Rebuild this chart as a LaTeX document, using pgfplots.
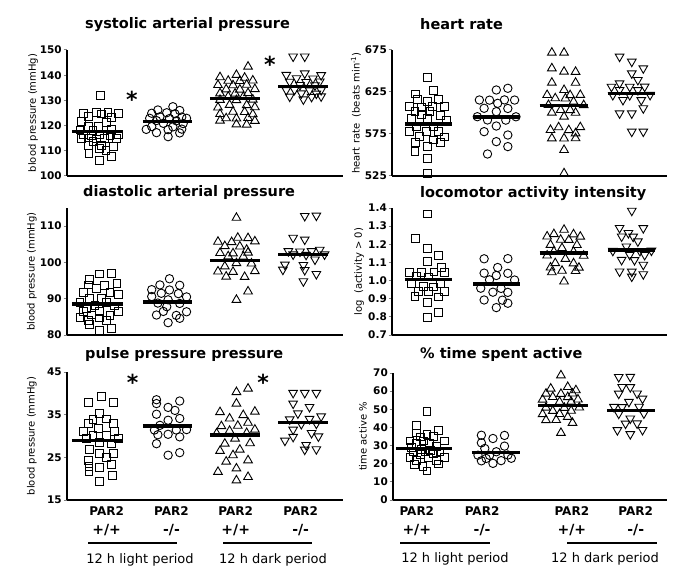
\documentclass[border=0pt]{standalone}
\usepackage{fontspec}
\setmainfont{DejaVu Sans}
\usepackage{pgfplots}
\pgfplotsset{compat=1.18}

\pgfplotsset{
  panel/.style={scale only axis, width=276pt, height=126pt, anchor=south west, clip=false,
    axis x line=bottom, axis y line=left, axis line style={-, line width=1.3pt},
    xtick=\empty, xtick style={draw=none}, tick align=outside, ytick style={line width=1pt}, major tick length=3.5pt,
    /pgf/number format/assume math mode=true,
    yticklabel style={font=\bfseries\fontsize{10.5}{12}\selectfont, inner sep=1.5pt},
    ylabel style={font=\fontsize{10}{12}\selectfont, anchor=center},
    xticklabel style={align=center, font=\bfseries\fontsize{12}{19}\selectfont},
    xmin=0.52, xmax=4.56},
  rpanel/.style={panel, width=275pt, xmin=0.44, xmax=4.50},
  sq/.style={only marks, mark=square, mark size=3.9pt, line width=0.9pt, black},
  ci/.style={only marks, mark=o, mark size=4.2pt, line width=0.9pt, black},
  tu/.style={only marks, mark=triangle, mark size=5pt, line width=0.9pt, black},
  td/.style={only marks, mark=triangle, mark size=5pt, line width=0.9pt, black, mark options={rotate=180}},
  mean/.style={black, line width=3.5pt, no marks},
}
\newcommand{\sigstar}[2]{\node[font=\bfseries\fontsize{22}{22}\selectfont, inner sep=0pt] at (axis cs:#1,#2) {*};}
\newcommand{\pp}{{\fontsize{14}{19}\selectfont +/+}}
\newcommand{\mm}{{\fontsize{14}{19}\selectfont -/-}}

\begin{document}
\begin{tikzpicture}
\path[use as bounding box] (0pt,0pt) rectangle (685pt,582pt);

% systolic
\begin{axis}[panel, at={(67pt,406pt)}, ymin=100, ymax=150, ytick={100,110,...,150},
  ylabel={blood pressure (mmHg)}, ylabel style={at={(axis description cs:-0.123,0.5)}}]
\addplot[sq] coordinates {(1.01,132.1) (0.76,124.9) (0.95,125.3) (1.02,124.6) (1.12,125.1) (1.27,124.7)
 (0.83,123.5) (1.17,123.2) (0.73,121.6) (1.10,121.4) (0.83,119.8) (0.98,119.6) (0.71,118.3) (0.90,118.0) (1.17,118.4)
 (0.76,116.3) (0.88,116.0) (1.00,116.5) (1.15,116.2) (1.27,116.4) (0.73,114.9) (0.83,115.1) (0.95,114.7) (1.07,115.0) (1.24,114.8)
 (0.90,113.6) (0.83,112.0) (1.02,112.2) (1.20,111.8) (1.00,111.0) (1.09,110.1) (0.84,109.0) (1.17,107.7) (1.00,106.3)};
\addplot[ci] coordinates {(2.07,127.5) (1.85,126.2) (2.17,126.0) (1.76,124.9) (1.98,125.1) (2.10,124.7)
 (1.88,123.5) (2.20,123.4) (1.73,122.9) (2.02,122.8) (2.27,122.9) (1.83,122.0) (2.12,121.9) (1.93,120.9) (2.22,120.8)
 (1.76,119.6) (2.07,119.5) (1.68,118.5) (2.00,118.4) (2.20,118.6) (1.83,117.2) (2.17,117.1) (2.00,115.6)};
\addplot[tu] coordinates {(3.17,143.4) (3.00,140.1) (2.76,139.2) (3.12,139.0) (2.88,137.8) (3.05,137.7) (3.24,137.9)
 (2.73,136.1) (2.95,136.0) (3.15,136.2) (2.85,134.4) (3.05,134.3) (3.27,134.5) (2.76,132.8) (2.98,132.7) (3.17,132.9)
 (2.88,131.5) (3.10,131.4) (2.76,130.2) (3.00,130.1) (3.24,130.3) (2.90,128.2) (3.15,128.1) (2.73,127.2) (3.27,127.3)
 (2.95,125.5) (3.12,125.4) (2.76,124.6) (3.24,124.5) (2.85,122.9) (3.00,122.8) (3.17,123.0) (2.76,122.0) (3.27,121.9)
 (3.00,120.5) (3.15,120.4)};
\addplot[td] coordinates {(3.83,147.4) (4.00,147.4) (4.00,140.7) (3.73,140.1) (4.24,140.0) (3.88,138.8) (4.12,138.7)
 (3.78,137.4) (4.02,137.3) (4.22,137.5) (3.93,136.1) (4.15,136.0) (3.73,134.1) (3.85,134.2) (4.07,134.0) (4.24,134.1)
 (3.95,132.8) (4.17,132.7) (3.78,131.5) (4.10,131.4) (4.24,131.6) (3.98,130.4)};
\addplot[mean] coordinates {(0.59,117.6) (1.34,117.6)};
\addplot[mean] coordinates {(1.63,121.6) (2.35,121.6)};
\addplot[mean] coordinates {(2.61,130.8) (3.34,130.8)};
\addplot[mean] coordinates {(3.61,135.5) (4.34,135.5)};
\sigstar{1.47}{130.5}
\sigstar{3.49}{144.5}
\end{axis}

% heart rate
\begin{axis}[rpanel, at={(392pt,406pt)}, ymin=525, ymax=675, ytick={525,575,625,675},
  ylabel={heart rate\ \ (beats min\textsuperscript{-1})}, ylabel style={at={(axis description cs:-0.131,0.5)}}]
\addplot[sq] coordinates {(0.96,642.5) (1.05,626.6) (0.79,622.6) (0.81,616.3) (1.12,616.0) (0.96,613.5)
 (0.70,607.5) (0.88,607.2) (1.04,607.8) (1.22,607.4) (0.78,601.6) (1.00,601.4) (0.88,597.6) (1.15,597.4)
 (0.73,593.7) (0.96,593.5) (1.24,591.7) (0.80,583.7) (1.05,583.5) (0.70,577.8) (0.95,577.6) (1.12,577.9)
 (0.85,571.8) (1.22,571.6) (1.05,567.9) (0.79,564.7) (1.15,564.5) (0.96,560.0) (0.78,554.0) (0.96,546.0) (0.96,528.2)};
\addplot[ci] coordinates {(2.15,629.4) (1.98,627.4) (1.73,615.5) (1.88,615.3) (2.10,615.6) (2.25,615.4) (2.00,611.5)
 (1.80,605.6) (2.15,605.4) (1.98,601.6) (1.70,595.6) (2.27,595.5) (1.85,591.7) (2.12,591.5) (1.98,584.5)
 (1.80,577.8) (2.15,573.8) (1.98,565.9) (2.15,560.0) (1.85,551.2)};
\addplot[tu] coordinates {(2.80,671.8) (2.98,671.8) (2.80,653.2) (2.98,649.2) (3.15,649.0) (2.80,636.1) (3.15,636.0)
 (2.98,627.4) (2.73,621.4) (3.07,621.2) (3.22,621.5) (2.85,617.5) (3.00,617.3) (3.12,613.5) (2.75,609.5) (3.27,609.4)
 (2.93,603.6) (3.07,603.5) (2.80,600.4) (3.15,600.3) (2.98,595.6) (2.90,583.0) (3.22,583.1) (2.78,579.8) (3.05,579.6)
 (3.15,575.8) (2.80,569.8) (2.98,569.7) (3.15,569.9) (2.98,556.0) (2.98,528.2)};
\addplot[td] coordinates {(3.80,667.1) (3.98,661.1) (4.15,653.2) (3.98,647.2) (4.07,639.3) (3.80,635.3)
 (3.68,631.3) (3.95,631.2) (4.17,631.4) (3.80,627.4) (4.07,627.3) (3.70,621.4) (3.95,621.3) (4.25,621.5)
 (3.85,615.5) (4.12,615.4) (4.15,605.6) (3.80,599.6) (3.98,599.5) (3.98,577.8) (4.15,577.9)};
\addplot[mean] coordinates {(0.63,587) (1.32,587)};
\addplot[mean] coordinates {(1.64,595) (2.33,595)};
\addplot[mean] coordinates {(2.62,609) (3.33,609)};
\addplot[mean] coordinates {(3.63,623) (4.32,623)};
\end{axis}

% diastolic
\begin{axis}[panel, at={(67pt,247pt)}, height=127pt, ymin=80, ymax=115, ytick={80,90,100,110},
  ylabel={blood pressure (mmHg)}, ylabel style={at={(axis description cs:-0.127,0.5)}}]
\addplot[sq] coordinates {(1.00,96.8) (1.17,96.9) (0.85,95.2) (1.25,94.3) (0.83,93.8) (1.07,93.7) (0.95,92.9)
 (0.76,91.8) (1.15,91.7) (1.27,91.1) (0.85,90.1) (1.02,90.0) (0.71,89.0) (1.10,88.9) (0.93,88.1) (1.22,88.0)
 (0.80,87.4) (0.76,86.5) (1.00,86.4) (1.27,86.6) (0.88,85.5) (1.15,85.4) (0.71,84.8) (1.00,84.7) (0.83,84.1) (1.10,84.0)
 (0.85,82.8) (1.17,81.8) (1.00,81.2)};
\addplot[ci] coordinates {(2.02,95.5) (1.88,93.8) (2.17,93.7) (1.76,92.5) (2.02,92.4) (1.90,91.5) (2.15,91.4)
 (1.76,90.6) (2.27,90.5) (2.00,89.7) (1.85,88.8) (2.17,88.7) (1.98,87.8) (1.93,86.5) (2.27,86.4) (1.83,85.5) (2.12,85.4)
 (2.17,84.6) (2.00,83.4)};
\addplot[tu] coordinates {(3.00,112.3) (3.02,106.8) (3.17,106.7) (2.73,105.7) (2.93,105.6) (3.27,105.8) (2.83,104.5) (3.05,104.4)
 (3.15,103.5) (2.76,102.6) (2.95,102.5) (3.17,102.7) (2.88,101.7) (3.10,101.6) (3.00,99.8) (3.22,99.7) (2.83,98.9)
 (2.73,97.5) (2.95,97.4) (3.27,97.6) (2.85,96.1) (3.12,96.0) (3.17,92.0) (3.00,89.7)};
\addplot[td] coordinates {(4.00,112.8) (4.17,112.9) (3.83,106.8) (4.00,106.3) (4.22,103.5) (3.76,103.1) (3.93,103.0) (4.10,103.1)
 (3.83,102.2) (4.02,102.1) (4.29,102.2) (4.15,100.8) (3.71,99.4) (3.98,99.3) (3.68,98.0) (4.00,97.9) (4.17,96.8) (3.98,94.8)};
\addplot[mean] coordinates {(0.59,88.6) (1.34,88.6)};
\addplot[mean] coordinates {(1.63,89.1) (2.35,89.1)};
\addplot[mean] coordinates {(2.61,100.6) (3.34,100.6)};
\addplot[mean] coordinates {(3.61,102.2) (4.34,102.2)};
\end{axis}

% locomotor
\begin{axis}[rpanel, at={(392pt,247pt)}, height=127pt, ymin=0.7, ymax=1.4, ytick={0.7,0.8,0.9,1.0,1.1,1.2,1.3,1.4},
  yticklabel style={/pgf/number format/fixed, /pgf/number format/fixed zerofill, /pgf/number format/precision=1},
  ylabel={log\ \ (activity > 0)}, ylabel style={at={(axis description cs:-0.12,0.5)}}]
\addplot[sq] coordinates {(0.96,1.367) (0.79,1.231) (0.96,1.175) (1.12,1.138) (0.96,1.105) (1.17,1.072)
 (0.70,1.046) (0.88,1.044) (1.06,1.048) (1.22,1.045) (0.80,1.022) (0.98,1.020) (0.73,0.986) (1.15,0.985)
 (0.90,0.967) (1.05,0.965) (0.83,0.940) (0.98,0.938) (1.22,0.941) (0.78,0.912) (1.12,0.910) (0.96,0.881)
 (1.12,0.825) (0.96,0.796)};
\addplot[ci] coordinates {(1.80,1.120) (2.15,1.121) (2.00,1.072) (1.80,1.041) (2.15,1.040) (1.98,1.028)
 (1.88,1.004) (2.25,1.003) (1.75,0.958) (2.05,0.957) (1.93,0.936) (2.15,0.935) (1.80,0.893) (2.07,0.892)
 (2.15,0.875) (1.98,0.851)};
\addplot[tu] coordinates {(2.98,1.280) (2.83,1.256) (3.12,1.255) (2.73,1.243) (3.22,1.242) (2.93,1.225) (3.05,1.224)
 (2.78,1.197) (3.17,1.196) (2.95,1.179) (2.83,1.160) (3.12,1.159) (2.73,1.138) (3.27,1.137) (3.00,1.120)
 (2.85,1.096) (3.12,1.095) (2.78,1.072) (3.20,1.071) (2.95,1.054) (3.15,1.053) (2.80,1.046) (2.98,0.995)};
\addplot[td] coordinates {(3.98,1.385) (3.80,1.290) (4.15,1.289) (3.93,1.262) (3.83,1.243) (4.00,1.242) (4.07,1.216)
 (3.90,1.188) (3.70,1.164) (4.10,1.163) (4.27,1.165) (3.95,1.142) (4.17,1.141) (3.83,1.114) (4.02,1.113)
 (4.15,1.087) (3.80,1.050) (3.98,1.049) (4.15,1.035) (3.98,1.022)};
\addplot[mean] coordinates {(0.63,1.005) (1.32,1.005)};
\addplot[mean] coordinates {(1.64,0.980) (2.33,0.980)};
\addplot[mean] coordinates {(2.62,1.152) (3.33,1.152)};
\addplot[mean] coordinates {(3.63,1.168) (4.32,1.168)};
\end{axis}

% pulse pressure
\begin{axis}[panel, at={(67pt,82pt)}, height=128pt, ymin=15, ymax=45, ytick={15,25,35,45},
  ylabel={blood pressure (mmHg)}, ylabel style={at={(axis description cs:-0.127,0.5)}},
  xtick={1.10,2.05,2.99,3.94}, xticklabels={{PAR2\\\pp},{PAR2\\\mm},{PAR2\\\pp},{PAR2\\\mm}}]
\addplot[sq] coordinates {(1.02,39.2) (0.83,37.8) (1.20,37.9) (1.00,35.3) (0.90,33.9) (1.10,34.0) (0.83,32.9) (1.20,33.0)
 (0.98,31.7) (0.76,31.0) (1.22,31.1) (0.90,30.2) (1.10,30.1) (0.80,29.4) (1.27,29.5) (1.00,28.4) (1.17,28.3)
 (0.85,26.8) (1.00,25.9) (1.20,26.0) (1.10,25.0) (0.83,24.3) (1.17,23.4) (0.84,22.9) (1.00,22.6) (0.84,21.6)
 (1.19,20.8) (1.00,19.4)};
\addplot[ci] coordinates {(1.83,38.5) (2.17,38.2) (1.83,37.6) (2.00,36.7) (2.10,36.0) (1.83,35.1) (2.17,34.1) (2.00,33.7)
 (1.88,32.5) (1.80,31.4) (2.12,31.4) (2.27,31.5) (1.85,30.3) (2.00,30.4) (2.17,29.8) (1.83,28.2) (2.17,26.1) (2.00,25.5)};
\addplot[tu] coordinates {(3.17,41.1) (3.00,40.3) (3.00,37.6) (2.76,35.6) (3.27,35.7) (3.10,34.9) (2.90,34.1) (3.17,33.1)
 (2.78,32.3) (3.02,32.4) (3.27,31.5) (2.90,31.2) (2.71,30.6) (3.15,30.7) (2.98,29.4) (2.83,28.2) (3.20,28.3)
 (3.05,26.8) (2.76,26.5) (2.95,25.5) (3.17,24.3) (2.85,24.0) (3.00,22.4) (2.73,21.6) (3.17,20.4) (3.00,19.6)};
\addplot[td] coordinates {(3.83,40.1) (4.00,40.1) (4.17,40.1) (3.83,37.6) (4.07,36.8) (3.90,35.3) (4.24,34.6) (3.78,33.9)
 (4.07,34.0) (3.95,32.8) (4.17,32.9) (3.83,31.5) (4.10,30.7) (3.83,29.8) (4.20,29.9) (3.71,28.9) (4.02,27.9)
 (4.00,26.8) (4.17,26.9)};
\addplot[mean] coordinates {(0.59,29.0) (1.34,29.0)};
\addplot[mean] coordinates {(1.63,32.4) (2.35,32.4)};
\addplot[mean] coordinates {(2.61,30.2) (3.34,30.2)};
\addplot[mean] coordinates {(3.61,33.2) (4.34,33.2)};
\sigstar{1.48}{42.6}
\sigstar{3.39}{42.6}
\end{axis}

% time active
\begin{axis}[rpanel, at={(393pt,82pt)}, height=127pt, width=274pt, xmin=0.53, xmax=4.56,
  ymin=0, ymax=70, ytick={0,10,...,70},
  ylabel={time active \%}, ylabel style={at={(axis description cs:-0.11,0.5)}},
  xtick={0.88,1.84,3.16,4.10}, xticklabels={{PAR2\\\pp},{PAR2\\\mm},{PAR2\\\pp},{PAR2\\\mm}}]
\addplot[sq] coordinates {(1.03,48.6) (0.87,41.2) (1.20,38.5) (0.87,37.0) (1.03,36.3) (0.93,34.8) (1.12,34.9)
 (0.78,32.6) (0.98,32.5) (1.29,32.6) (0.88,31.2) (1.07,31.3) (1.17,29.7) (0.80,29.0) (0.95,28.0) (1.08,27.5)
 (0.83,26.6) (1.00,26.5) (1.22,26.7) (0.93,25.3) (1.12,25.4) (0.78,23.5) (1.05,23.4) (1.29,23.6)
 (0.88,21.6) (1.17,21.7) (0.85,19.8) (1.20,19.9) (0.97,18.3) (1.03,16.0)};
\addplot[ci] coordinates {(1.83,35.7) (2.17,35.6) (2.00,33.9) (1.83,31.5) (2.17,29.7) (1.88,28.4) (2.05,26.6)
 (1.78,24.7) (1.95,24.6) (2.22,24.8) (1.90,22.9) (2.27,23.0) (1.83,21.6) (2.12,21.7) (2.00,20.2)};
\addplot[tu] coordinates {(3.00,68.7) (3.10,62.3) (2.85,61.4) (3.22,60.5) (2.78,58.6) (3.00,58.5) (3.17,58.7)
 (2.88,56.8) (3.10,56.7) (2.73,55.3) (3.25,55.4) (2.98,54.1) (3.15,54.2) (2.78,50.9) (3.05,50.8) (3.27,51.0)
 (2.88,49.1) (3.15,49.2) (2.73,47.3) (2.98,47.4) (3.10,45.8) (2.78,44.0) (2.93,44.1) (3.17,42.5) (3.00,37.0)};
\addplot[td] coordinates {(3.85,67.8) (4.02,67.9) (3.90,62.3) (4.02,62.2) (3.85,58.6) (4.12,58.7) (4.20,55.9)
 (4.00,54.1) (3.78,51.3) (3.90,51.2) (4.15,51.4) (3.85,47.6) (4.22,47.7) (4.02,44.9) (3.95,42.1) (4.12,42.2)
 (3.83,38.5) (4.20,38.6) (4.02,36.3)};
\addplot[mean] coordinates {(0.58,28.3) (1.40,28.3)};
\addplot[mean] coordinates {(1.69,26.2) (2.40,26.2)};
\addplot[mean] coordinates {(2.66,52.2) (3.40,52.2)};
\addplot[mean] coordinates {(3.68,49.4) (4.38,49.4)};
\end{axis}

% titles
\begin{scope}[every node/.style={anchor=base west, font=\bfseries\fontsize{14.5}{16}\selectfont, inner sep=0pt}]
\node at (85pt,553pt) {systolic arterial pressure};
\node at (420pt,552pt) {heart rate};
\node at (83pt,385pt) {diastolic arterial pressure};
\node at (420pt,384pt) {locomotor activity intensity};
\node at (85pt,224pt) {pulse pressure pressure};
\node at (420pt,224pt) {\% time spent active};
\end{scope}

% period brackets
\begin{scope}[line width=1.8pt]
\draw (88pt,39pt) -- (177pt,39pt);
\draw (223pt,39pt) -- (312pt,39pt);
\draw (400pt,39pt) -- (490pt,39pt);
\draw (567pt,39pt) -- (657pt,39pt);
\end{scope}
\begin{scope}[every node/.style={anchor=base, font=\fontsize{13}{15}\selectfont, inner sep=0pt}]
\node at (140pt,19pt) {12 h light period};
\node at (273pt,19pt) {12 h dark period};
\node at (455pt,20pt) {12 h light period};
\node at (605pt,20pt) {12 h dark period};
\end{scope}
\end{tikzpicture}
\end{document}
